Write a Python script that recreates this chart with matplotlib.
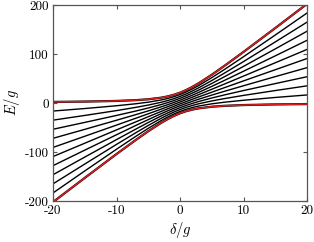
import numpy as np
import matplotlib
import matplotlib.pyplot as plt

matplotlib.use('Agg')

# detuning samples (same grid for every level)
delta = [-20, -15, -10, -7, -5, -3, -2, -1, 0, 1, 2, 3, 5, 7, 10, 15, 20]

# outer two levels (red)
upper_red = [2.2, 2.9, 4.2, 5.8, 7.6, 10.8, 13.3, 16.6, 21.0, 26.6, 33.3, 40.8,
             57.6, 75.8, 104.2, 152.9, 202.2]
lower_red = [-202.2, -152.9, -104.2, -75.8, -57.6, -40.8, -33.3, -26.6, -21.0,
             -16.6, -13.3, -10.8, -7.6, -5.8, -4.2, -2.9, -2.2]

# inner levels (black), lowest first
black_levels = [
    [-183.6, -138.7, -94.4, -68.4, -51.7, -36.1, -29.0, -22.7, -17.2, -12.7, -9.0, -6.1, -1.7, 1.6, 5.6, 11.3, 16.4],
    [-165.0, -124.6, -84.5, -61.0, -45.8, -31.4, -24.8, -18.7, -13.4, -8.7, -4.8, -1.4, 4.2, 9.0, 15.5, 25.4, 35.0],
    [-146.4, -110.4, -74.7, -53.6, -39.8, -26.7, -20.6, -14.8, -9.6, -4.8, -0.6, 3.3, 10.2, 16.5, 25.4, 39.6, 53.6],
    [-127.9, -96.2, -64.8, -46.1, -33.9, -22.0, -16.3, -10.9, -5.7, -0.9, 3.7, 8.0, 16.1, 23.9, 35.2, 53.8, 72.1],
    [-109.3, -82.1, -54.9, -38.7, -28.0, -17.4, -12.1, -7.0, -1.9, 3.0, 7.9, 12.7, 22.0, 31.3, 45.1, 67.9, 90.7],
    [-90.7, -67.9, -45.1, -31.3, -22.0, -12.7, -7.9, -3.0, 1.9, 7.0, 12.1, 17.4, 28.0, 38.7, 54.9, 82.1, 109.3],
    [-72.1, -53.8, -35.2, -23.9, -16.1, -8.0, -3.7, 0.9, 5.7, 10.9, 16.3, 22.0, 33.9, 46.1, 64.8, 96.2, 127.9],
    [-53.6, -39.6, -25.4, -16.5, -10.2, -3.3, 0.6, 4.8, 9.6, 14.8, 20.6, 26.7, 39.8, 53.6, 74.7, 110.4, 146.4],
    [-35.0, -25.4, -15.5, -9.0, -4.2, 1.4, 4.8, 8.7, 13.4, 18.7, 24.8, 31.4, 45.8, 61.0, 84.5, 124.6, 165.0],
    [-16.4, -11.3, -5.6, -1.6, 1.7, 6.1, 9.0, 12.7, 17.2, 22.7, 29.0, 36.1, 51.7, 68.4, 94.4, 138.7, 183.6],
]

plt.rcParams['font.family'] = 'serif'
plt.rcParams['font.serif'] = ['cmr10']
plt.rcParams['mathtext.fontset'] = 'cm'
plt.rcParams['axes.unicode_minus'] = False

fig = plt.figure(figsize=(3.14, 2.42), dpi=100)
ax = fig.add_axes([53/314, 41/242, 254/314, 196/242])

for lev in black_levels:
    ax.plot(delta, lev, color='black', lw=1.0)

ax.plot(delta, upper_red, color='black', lw=1.6)
ax.plot(delta, lower_red, color='black', lw=1.6)
ax.plot(delta, upper_red, color='#d81e1e', lw=1.1)
ax.plot(delta, lower_red, color='#d81e1e', lw=1.1)

ax.set_xlim(-20, 20)
ax.set_ylim(-200, 200)
ax.set_xticks([-20, -10, 0, 10, 20])
ax.set_yticks([-200, -100, 0, 100, 200])
ax.tick_params(direction='in', top=True, right=True, labelsize=9.5,
               length=3, width=0.8, color='#555555', pad=3)
for s in ax.spines.values():
    s.set_color('#555555')
    s.set_linewidth(0.9)

ax.set_xlabel(r'$\delta/g$', fontsize=10.5, labelpad=2)
ax.set_ylabel(r'$E/g$', fontsize=10.5, labelpad=2)

fig.savefig('out.png', dpi=100)
